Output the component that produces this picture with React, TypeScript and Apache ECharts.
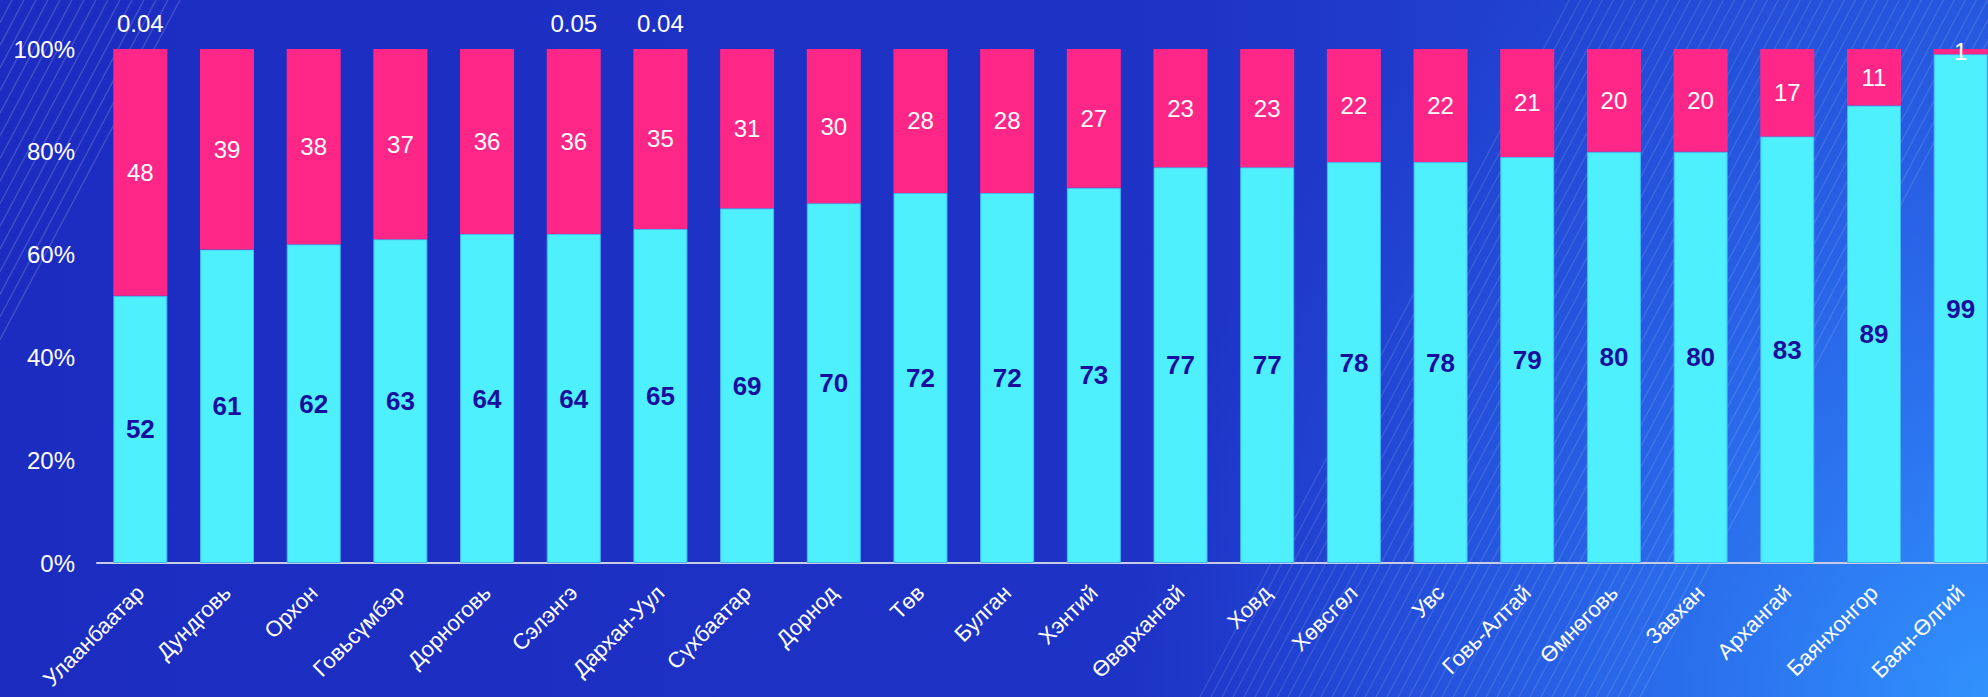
import React, { useEffect, useRef } from "react";
import * as echarts from "echarts";

const categories = [
  "Улаанбаатар", "Дундговь", "Орхон", "Говьсүмбэр", "Дорноговь", "Сэлэнгэ",
  "Дархан-Уул", "Сүхбаатар", "Дорнод", "Төв", "Булган", "Хэнтий",
  "Өвөрхангай", "Ховд", "Хөвсгөл", "Увс", "Говь-Алтай", "Өмнөговь",
  "Завхан", "Архангай", "Баянхонгор", "Баян-Өлгий",
];
const cyanValues = [52, 61, 62, 63, 64, 64, 65, 69, 70, 72, 72, 73, 77, 77, 78, 78, 79, 80, 80, 83, 89, 99];
const pinkValues = [48, 39, 38, 37, 36, 36, 35, 31, 30, 28, 28, 27, 23, 23, 22, 22, 21, 20, 20, 17, 11, 1];
const otherValues: (number | null)[] = [0.04, null, null, null, null, 0.05, 0.04, null, null, null, null, null, null, null, null, null, null, null, null, null, null, null];
const yTicks = [0, 20, 40, 60, 80, 100];

const FONT = "'Liberation Sans', Arial, sans-serif";

function buildStripes() {
  const els: any[] = [];
  const slope = 0.53;
  // top-left corner stripes
  for (let x0 = 12; x0 <= 190; x0 += 12) {
    els.push({
      type: "line",
      silent: true,
      z: 0,
      shape: { x1: x0, y1: 0, x2: 0, y2: x0 / slope },
      style: { stroke: "rgba(255,255,255,0.16)", lineWidth: 1.5 },
    });
  }
  // right diagonal band
  for (let xb = 1200; xb <= 1650; xb += 11) {
    els.push({
      type: "line",
      silent: true,
      z: 0,
      shape: { x1: xb, y1: 697, x2: xb + slope * 697, y2: 0 },
      style: { stroke: "rgba(255,255,255,0.11)", lineWidth: 1.5 },
    });
  }
  return els;
}

export default function App() {
  const ref = useRef<HTMLDivElement>(null);
  useEffect(() => {
    if (!ref.current) return;
    const chart = echarts.init(ref.current, undefined, { renderer: "svg" });
    chart.setOption({
      animation: false,
      backgroundColor: {
        type: "linear",
        x: 0, y: 0, x2: 1, y2: 0,
        colorStops: [
          { offset: 0, color: "#1c2cc0" },
          { offset: 0.6, color: "#1e34c7" },
          { offset: 1, color: "#2553da" },
        ],
      },
      graphic: [
        {
          type: "circle",
          silent: true,
          z: 0,
          shape: { cx: 1995, cy: 697, r: 860 },
          style: {
            fill: {
              type: "radial",
              x: 0.5, y: 0.5, r: 0.5,
              colorStops: [
                { offset: 0, color: "rgba(50,150,255,0.95)" },
                { offset: 0.45, color: "rgba(45,125,248,0.6)" },
                { offset: 1, color: "rgba(40,100,240,0)" },
              ],
            },
          },
        },
        ...buildStripes(),
      ],
      grid: { left: 97, top: 49, bottom: 134, right: 0 },
      xAxis: {
        type: "category",
        data: categories,
        axisLine: { show: true, lineStyle: { color: "#c9cce0", width: 2 } },
        axisTick: { show: false },
        axisLabel: {
          rotate: 45,
          interval: 0,
          margin: 26,
          color: "#ffffff",
          fontSize: 22,
          fontFamily: FONT,
        },
      },
      yAxis: {
        type: "value",
        min: 0,
        max: 100,
        interval: 20,
        axisLine: { show: false },
        axisTick: { show: false },
        splitLine: { show: false },
        axisLabel: {
          formatter: (v: number) => (yTicks.includes(v) ? v + "%" : ""),
          color: "#ffffff",
          fontSize: 24,
          fontFamily: FONT,
          margin: 22,
        },
      },
      series: [
        {
          type: "bar",
          stack: "total",
          barWidth: 54,
          data: cyanValues,
          itemStyle: { color: "#4ef0fd", borderColor: "#47b8f2", borderWidth: 1 },
          label: {
            show: true,
            position: "inside",
            color: "#1a0e9e",
            fontWeight: "bold",
            fontSize: 26,
            fontFamily: FONT,
          },
        },
        {
          type: "bar",
          stack: "total",
          barWidth: 54,
          data: pinkValues,
          itemStyle: { color: "#fe2788" },
          label: {
            show: true,
            position: "inside",
            color: "#ffffff",
            fontSize: 24,
            fontFamily: FONT,
          },
        },
        {
          type: "bar",
          stack: "total",
          barWidth: 54,
          clip: false,
          data: otherValues,
          itemStyle: { color: "rgba(0,0,0,0)" },
          label: {
            show: true,
            position: "top",
            distance: 13,
            color: "#ffffff",
            fontSize: 24,
            fontFamily: FONT,
          },
        },
      ],
    });
    return () => chart.dispose();
  }, []);
  return (
    <div style={{ width: 1988, height: 697, position: "absolute", left: 0, top: 0, overflow: "hidden" }}>
      <div ref={ref} style={{ width: 2004, height: 697 }} />
    </div>
  );
}
